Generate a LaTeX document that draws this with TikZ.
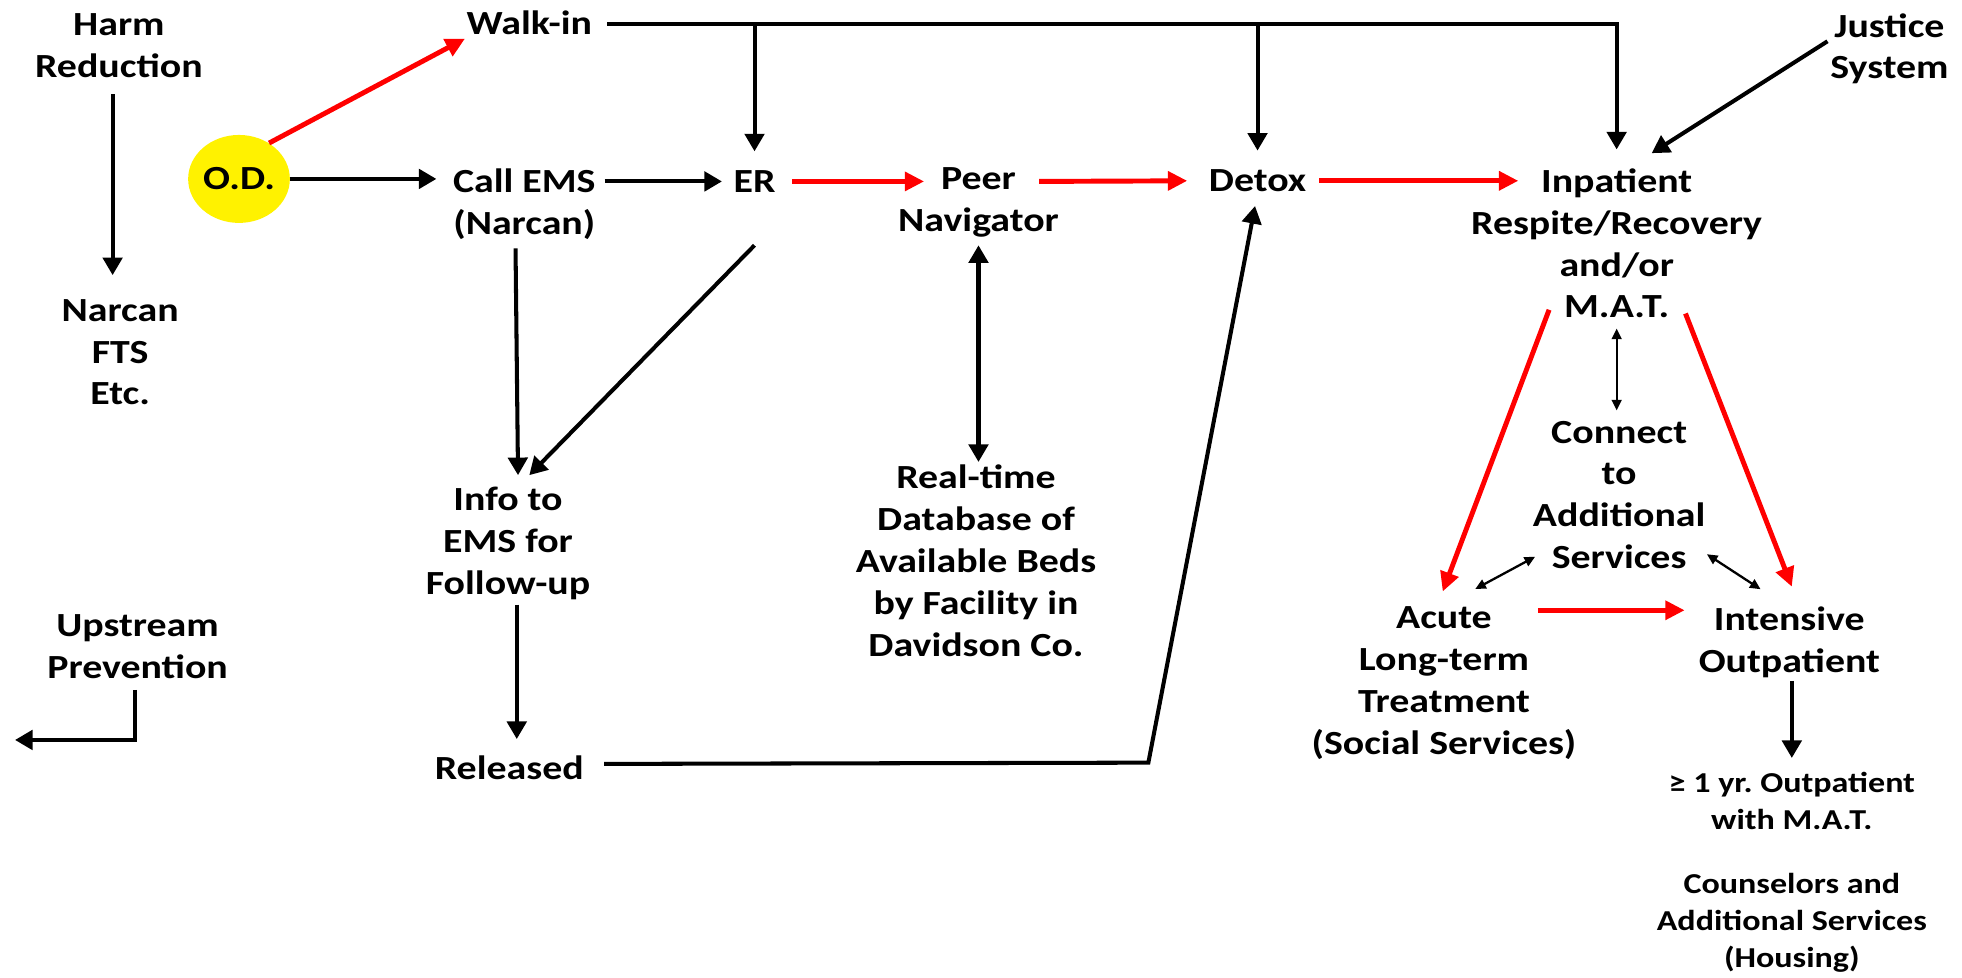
\documentclass[tikz,border=0pt]{standalone}
\usepackage{fontspec}
\setmainfont{Carlito}[FakeStretch=1.18]
\frenchspacing
\usetikzlibrary{arrows.meta,calc,shapes.geometric}
\begin{document}
\begin{tikzpicture}[x=0.025cm,y=0.025cm,
  lbl/.style={align=center,inner sep=0pt,font=\bfseries\fontsize{19.2}{23.8}\selectfont},
  small/.style={align=center,inner sep=0pt,font=\bfseries\fontsize{16.4}{21}\selectfont},
  blk/.style={draw=black,line width=2.3pt,-{Triangle[length=10pt,width=11pt]}},
  redarr/.style={draw=red,line width=2.8pt,-{Triangle[length=11pt,width=10.5pt]}},
  thinarr/.style={draw=black,line width=1.3pt,{Triangle[length=6pt,width=5.5pt]}-{Triangle[length=6pt,width=5.5pt]}},
  dblarr/.style={draw=black,line width=2.3pt,{Triangle[length=10pt,width=11pt]}-{Triangle[length=10pt,width=11pt]}}]
\useasboundingbox (0,0) rectangle (1568,-781);
% nodes
\node[lbl] (harm) at (95,-36.5) {Harm\\Reduction};
\node[lbl] (narcan) at (96,-281.5) {Narcan\\FTS\\Etc.};
\node[lbl,ellipse,fill=yellow,inner sep=0pt,minimum width=54pt,minimum height=50pt] (od) at (191,-143) {O.D.};
\node[lbl] (walkin) at (423,-18) {Walk-in};
\node[lbl] (callems) at (419,-163) {Call EMS\\(Narcan)};
\node[lbl] (er) at (603,-145) {ER};
\node[lbl] (peer) at (782,-162) {Peer\\Navigator};
\node[lbl] (detox) at (1005,-144.5) {Detox};
\node[lbl] (inpat) at (1292,-194.5) {Inpatient\\Respite/Recovery\\and/or\\M.A.T.};
\node[lbl] (justice) at (1510,-39) {Justice\\System};
\node[lbl] (connect) at (1294,-395.5) {Connect\\to\\Additional\\Services};
\node[lbl] (acute) at (1154,-546) {Acute\\Long-term\\Treatment\\(Social Services)};
\node[lbl] (intens) at (1430,-513.5) {Intensive\\Outpatient};
\node[small] (oneyr) at (1432,-640) {≥ 1 yr. Outpatient\\with M.A.T.};
\node[small] (couns) at (1432,-737.5) {Counselors and\\Additional Services\\(Housing)};
\node[lbl] (info) at (406,-434) {Info to\\EMS for\\Follow-up};
\node[lbl] (released) at (407,-613.5) {Released};
\node[lbl] (db) at (780,-448) {Real-time\\Database of\\Available Beds\\by Facility in\\Davidson Co.};
\node[lbl] (upstream) at (110,-516.5) {Upstream\\Prevention};
% connectors
\draw[blk] ($(harm.south)+(-5,-13)$) -- ($(narcan.north)+(-6,19)$);
\draw[blk] (od.east) -- ($(od.east -| callems.west)+(-13,0)$);
\draw[redarr] (od.50) -- ($(walkin.south west)+(-1,-3)$);
\coordinate (wl) at ($(walkin.east)+(12,-1)$);
\draw[blk] (wl) -| ($(inpat.north)+(0,15)$);
\draw[blk] (wl -| er.north) -- ($(er.north)+(0,15)$);
\draw[blk] (wl -| detox.north) -- ($(detox.north)+(0,15)$);
\draw[blk] ($(callems.east |- er.west)+(7,0)$) -- ($(er.west)+(-9,0)$);
\draw[redarr] ($(er.east)+(13,0)$) -- ($(er.east -| peer.west)+(21,0)$);
\draw[redarr] ($(er.east -| peer.east)+(-16,0)$) -- ($(detox.west)+(-17,0)$);
\draw[redarr] ($(detox.east)+(10,0)$) -- ($(detox.east -| inpat.west)+(38,0)$);
\draw[blk] ($(justice.west)+(-2,6)$) -- ($(inpat.north)+(28,12)$);
\draw[redarr] ($(inpat.south)+(-54,7)$) -- ($(acute.north)+(-1,12)$);
\draw[redarr] ($(inpat.south)+(55,4)$) -- ($(intens.north)+(2,16)$);
\draw[thinarr] ($(inpat.south)+(0,-8)$) -- ($(inpat.south |- connect.north)+(0,8)$);
\draw[thinarr] ($(connect.south west)+(2,10)$) -- ($(acute.north)+(25,14)$);
\draw[thinarr] ($(connect.south east)+(1,12)$) -- ($(intens.north)+(-23,14)$);
\draw[redarr] ($(acute.north)+(75,-3)$) -- ($(acute.north -| intens.west)+(-11,-3)$);
\draw[blk] ($(intens.south)+(2,-2)$) -- ($(oneyr.north)+(0,11)$);
\draw[blk] ($(callems.south)+(-7,-7)$) -- ($(info.north)+(8,9)$);
\draw[blk] ($(er.south)+(0,-42)$) -- ($(info.north)+(17,9)$);
\draw[dblarr] ($(peer.south)+(0,-6)$) -- ($(peer.south |- db.north)+(0,2)$);
\draw[blk] ($(info.south)+(7,-4)$) -- ($(released.north)+(6,13)$);
\coordinate (rk) at ($(released.east)+(451,4)$);
\draw[blk] ($(released.east)+(16,3)$) -- (rk) -- ($(detox.south)+(-2,-11)$);
\coordinate (upend) at ($(upstream.south)+(-98,-49)$);
\draw[blk] ($(upstream.south)+(-2,-9)$) |- (upend);
\end{tikzpicture}
\end{document}
